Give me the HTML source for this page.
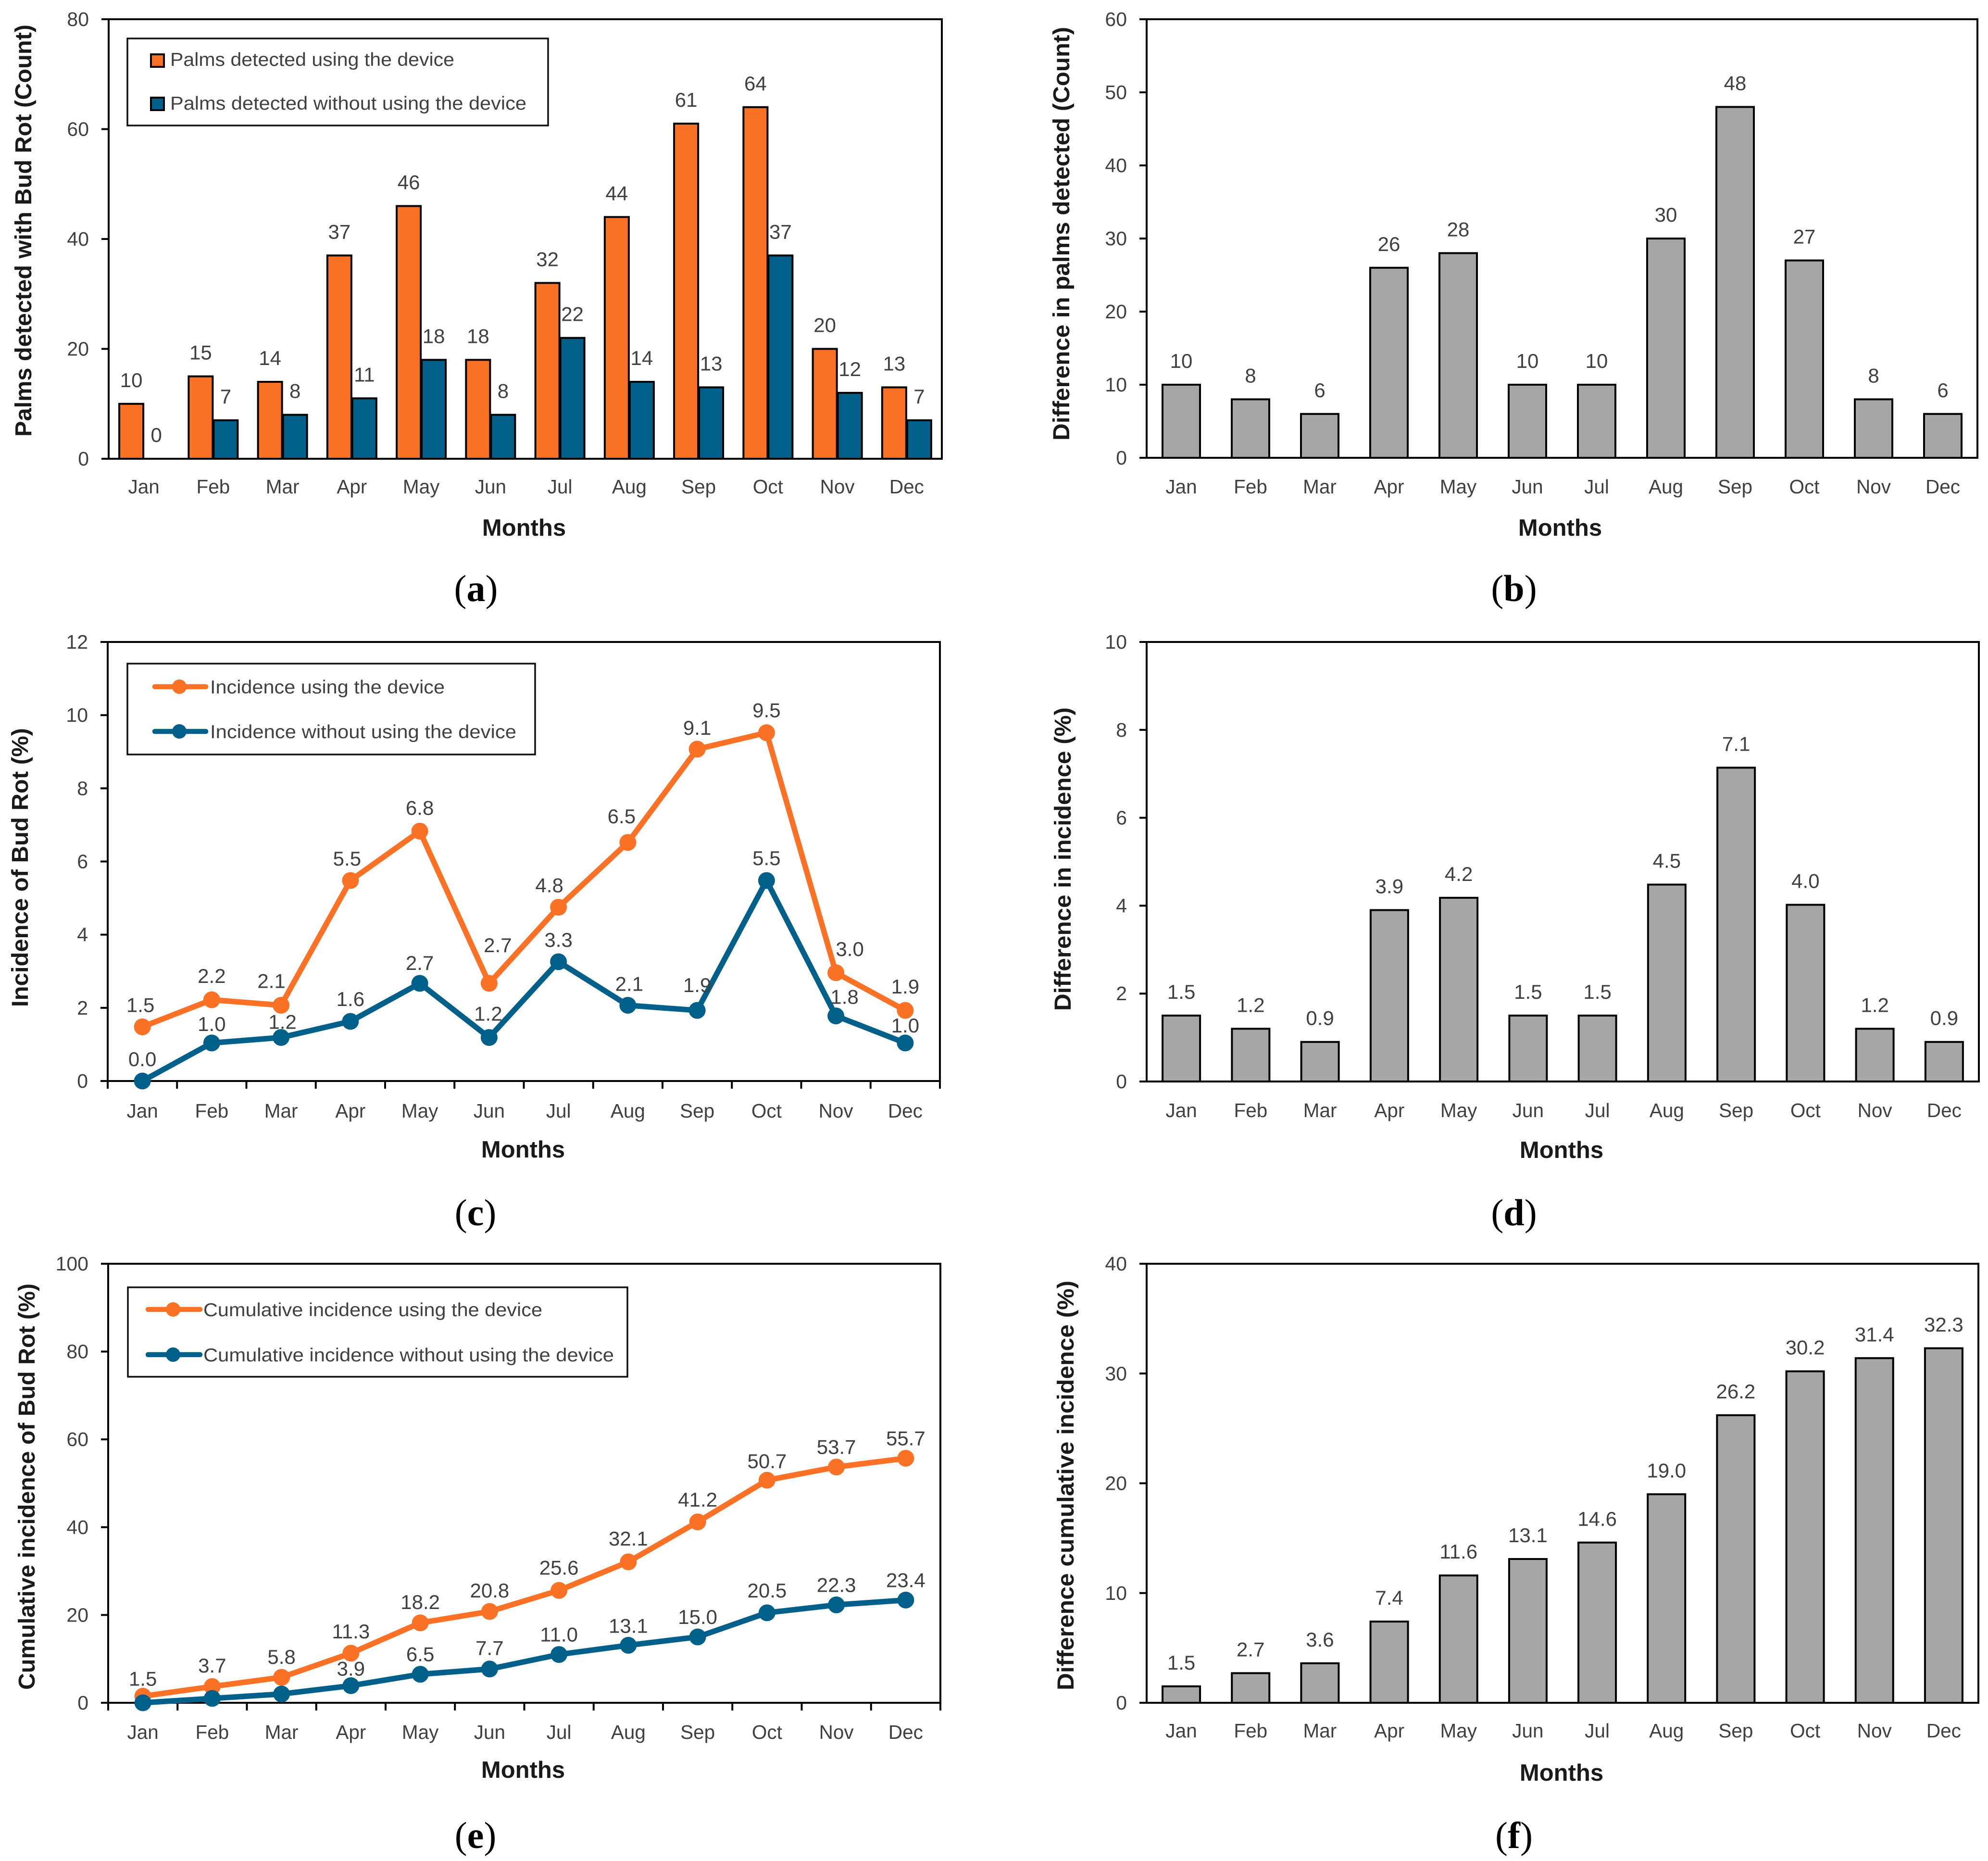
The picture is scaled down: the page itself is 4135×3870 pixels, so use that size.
<!DOCTYPE html>
<html lang="en">
<head>
<meta charset="utf-8">
<title>Bud Rot detection charts</title>
<style>
html,body{margin:0;padding:0;background:#fff;}
svg{display:block;}
text{font-family:"Liberation Sans",sans-serif;}
.tick{font-size:41px;fill:#404040;}
.val{font-size:42px;fill:#404040;text-anchor:middle;}
.month{font-size:40.5px;fill:#404040;text-anchor:middle;}
.ytitle{font-size:48px;font-weight:bold;fill:#1a1a1a;text-anchor:start;}
.xtitle{font-size:49px;font-weight:bold;fill:#1a1a1a;text-anchor:middle;}
.leg{font-size:39px;fill:#404040;}
.cap{font-family:"Liberation Serif",serif;font-size:78px;fill:#000;text-anchor:middle;}
.cap tspan{font-weight:bold;}
.frame{fill:none;stroke:#000;stroke-width:4;}
.legbox{fill:#fff;stroke:#111;stroke-width:3.5;}
</style>
</head>
<body>
<svg id="figure" xmlns="http://www.w3.org/2000/svg" width="4135" height="3870" viewBox="0 0 4135 3870">
  <rect x="0" y="0" width="4135" height="3870" fill="#fff"/>
  <g id="marks"></g>

  <text class="ytitle" transform="translate(65 908) rotate(-90)" textLength="857" lengthAdjust="spacingAndGlyphs">Palms detected with Bud Rot (Count)</text>
  <text class="ytitle" transform="translate(2224 916) rotate(-90)" textLength="860" lengthAdjust="spacingAndGlyphs">Difference in palms detected (Count)</text>
  <text class="ytitle" transform="translate(58 2094) rotate(-90)" textLength="580" lengthAdjust="spacingAndGlyphs">Incidence of Bud Rot (%)</text>
  <text class="ytitle" transform="translate(2227 2102) rotate(-90)" textLength="631" lengthAdjust="spacingAndGlyphs">Difference in incidence (%)</text>
  <text class="ytitle" transform="translate(72 3514) rotate(-90)" textLength="845" lengthAdjust="spacingAndGlyphs">Cumulative incidence of Bud Rot (%)</text>
  <text class="ytitle" transform="translate(2233 3515) rotate(-90)" textLength="852" lengthAdjust="spacingAndGlyphs">Difference cumulative incidence (%)</text>

  <text class="xtitle" x="1090" y="1114">Months</text>
  <text class="xtitle" x="3245" y="1114">Months</text>
  <text class="xtitle" x="1088" y="2407">Months</text>
  <text class="xtitle" x="3248" y="2408">Months</text>
  <text class="xtitle" x="1088" y="3697">Months</text>
  <text class="xtitle" x="3248" y="3703">Months</text>

  <g>
    <rect class="legbox" x="265" y="80" width="875" height="181"/>
    <rect x="314" y="113" width="27" height="26" fill="#FB7226" stroke="#000" stroke-width="4"/>
    <text class="leg" x="354" y="137" textLength="591" lengthAdjust="spacingAndGlyphs">Palms detected using the device</text>
    <rect x="314" y="203" width="27" height="26" fill="#01608A" stroke="#000" stroke-width="4"/>
    <text class="leg" x="354" y="228" textLength="741" lengthAdjust="spacingAndGlyphs">Palms detected without using the device</text>
  </g>

  <g>
    <rect class="legbox" x="265" y="1380" width="848" height="189"/>
    <line x1="322" y1="1428" x2="428" y2="1428" stroke="#FB7226" stroke-width="10.5" stroke-linecap="round"/>
    <circle cx="373" cy="1428" r="15" fill="#FB7226"/>
    <text class="leg" x="437" y="1442" textLength="488" lengthAdjust="spacingAndGlyphs">Incidence using the device</text>
    <line x1="322" y1="1521" x2="428" y2="1521" stroke="#01608A" stroke-width="10.5" stroke-linecap="round"/>
    <circle cx="373" cy="1521" r="15" fill="#01608A"/>
    <text class="leg" x="437" y="1535" textLength="637" lengthAdjust="spacingAndGlyphs">Incidence without using the device</text>
  </g>

  <g>
    <rect class="legbox" x="266" y="2677" width="1039" height="186"/>
    <line x1="308" y1="2723" x2="416" y2="2723" stroke="#FB7226" stroke-width="10.5" stroke-linecap="round"/>
    <circle cx="360" cy="2723" r="15" fill="#FB7226"/>
    <text class="leg" x="423" y="2737" textLength="705" lengthAdjust="spacingAndGlyphs">Cumulative incidence using the device</text>
    <line x1="308" y1="2817" x2="416" y2="2817" stroke="#01608A" stroke-width="10.5" stroke-linecap="round"/>
    <circle cx="360" cy="2817" r="15" fill="#01608A"/>
    <text class="leg" x="423" y="2831" textLength="854" lengthAdjust="spacingAndGlyphs">Cumulative incidence without using the device</text>
  </g>

  <text class="cap" x="990" y="1250">(<tspan>a</tspan>)</text>
  <text class="cap" x="3149" y="1250">(<tspan>b</tspan>)</text>
  <text class="cap" x="989" y="2548">(<tspan>c</tspan>)</text>
  <text class="cap" x="3149" y="2548">(<tspan>d</tspan>)</text>
  <text class="cap" x="989" y="3843">(<tspan>e</tspan>)</text>
  <text class="cap" x="3149" y="3843">(<tspan>f</tspan>)</text>
</svg>

<script>
// ---- categories ----
const months = ["Jan","Feb","Mar","Apr","May","Jun","Jul","Aug","Sep","Oct","Nov","Dec"];

// ---- panel (a) ----
const aTicks = [0,20,40,60,80];
const aDevice = [10,15,14,37,46,18,32,44,61,64,20,13];
const aWithout = [0,7,8,11,18,8,22,14,13,37,12,7];

// ---- panel (b) ----
const bTicks = [0,10,20,30,40,50,60];
const bDifference = [10,8,6,26,28,10,10,30,48,27,8,6];

// ---- panel (c) ----
const cTicks = [0,2,4,6,8,10,12];
const cDevice = [1.48,2.22,2.07,5.48,6.83,2.67,4.75,6.52,9.07,9.52,2.96,1.93];
const cWithout = [0.00,1.04,1.19,1.63,2.67,1.19,3.26,2.07,1.93,5.48,1.78,1.04];

// ---- panel (d) ----
const dTicks = [0,2,4,6,8,10];
const dDifference = [1.5,1.2,0.9,3.9,4.18,1.5,1.5,4.48,7.14,4.02,1.2,0.9];

// ---- panel (e) ----
const eTicks = [0,20,40,60,80,100];
const eDevice = [1.5,3.7,5.8,11.3,18.2,20.8,25.6,32.1,41.2,50.7,53.7,55.7];
const eWithout = [0.0,1.0,2.0,3.9,6.5,7.7,11.0,13.1,15.0,20.5,22.3,23.4];
const eWithoutHiddenLabels = ["Jan","Feb","Mar"];

// ---- panel (f) ----
const fTicks = [0,10,20,30,40];
const fDifference = [1.5,2.7,3.6,7.4,11.6,13.1,14.6,19.0,26.2,30.2,31.4,32.3];

// ---- layout (not data) ----
const ORANGE = "#FB7226", BLUE = "#01608A", GRAY = "#A6A6A6";
const boxA = {id:"a",L:227,R:1958,frameL:226,frameR:1959,T:40,B:954,monthY:1026};
const boxB = {id:"b",L:2385,R:4113,frameL:2385,frameR:4113,T:40,B:952,monthY:1026};
const boxC = {id:"c",L:224,R:1955,frameL:224,frameR:1955,T:1335,B:2248,monthY:2324};
const boxD = {id:"d",L:2385,R:4116,frameL:2385,frameR:4116,T:1335,B:2249,monthY:2323};
const boxE = {id:"e",L:225,R:1956,frameL:225,frameR:1956,T:2628,B:3541,monthY:3616};
const boxF = {id:"f",L:2385,R:4115,frameL:2385,frameR:4115,T:2628,B:3541,monthY:3613};
const cDeviceNudgeX = [-4,0,-20,-7,0,18,-19,-13,0,0,29,0];
const cDeviceLift = [46,50,51,46,49,80,46,55,45,47,50,50];
const cWithoutNudgeX = [0,0,3,0,0,-2,0,3,0,0,18,0];
const cWithoutLift = [46,40,33,47,43,50,46,45,53,47,40,37];
const eDeviceLift = [37,44,43,46,44,44,48,49,47,40,42,42];
const eWithoutLift = [42,42,42,36,42,44,42,41,42,47,42,42];

const NS = "http://www.w3.org/2000/svg";
const root = document.getElementById("marks");

function make(tag, attrs, parent){
  const node = document.createElementNS(NS, tag);
  for (const k in attrs) node.setAttribute(k, attrs[k]);
  (parent || root).appendChild(node);
  return node;
}
function xPos(box, i){ return box.L + (i + 0.5) * (box.R - box.L) / months.length; }
function xEdge(box, i){ return box.L + i * (box.R - box.L) / months.length; }
function yPos(box, ticks, v){
  const max = Math.max.apply(null, ticks);
  return box.B - (v / max) * (box.B - box.T);
}

function drawAxes(box, ticks, decimals, withXTicks){
  const frame = make("rect", {x:box.frameL, y:box.T, width:box.frameR-box.frameL, height:box.B-box.T, "class":"frame"});
  
  
  ticks.forEach(function(t){
    const y = yPos(box, ticks, t);
    const mark = make("line", {x1:box.frameL-15, x2:box.frameL, y1:y, y2:y, stroke:"#000", "stroke-width":4});
    
    
    const lab = make("text", {x:box.frameL-41, y:y+14, "text-anchor":"end", "class":"tick"});
    lab.textContent = t.toFixed(decimals);
    
    
  });
  months.forEach(function(m, i){
    const lab = make("text", {x:xPos(box,i), y:box.monthY, "class":"month"});
    lab.textContent = m;
    
    
  });
  if (withXTicks){
    for (let i = 0; i <= months.length; i++){
      const x = xEdge(box, i);
      const mark = make("line", {x1:x, x2:x, y1:box.B, y2:box.B+16, stroke:"#000", "stroke-width":4});
      
      
    }
  }
}

function drawBars(box, ticks, values, fill, offset, width, digits, seriesName){
  values.forEach(function(v, i){
    const cx = xPos(box, i) + offset;
    const y = yPos(box, ticks, v);
    if (v > 0){
      const bar = make("rect", {x:cx-width/2, y:y, width:width, height:box.B-y, fill:fill, stroke:"#000", "stroke-width":4});
      
      
    }
    const lab = make("text", {x:cx, y:y-35, "class":"val"});
    lab.textContent = v.toFixed(digits);
    
    
  });
}

function drawLine(box, ticks, values, color, seriesName){
  const pts = values.map(function(v, i){ return xPos(box,i).toFixed(1) + "," + yPos(box,ticks,v).toFixed(1); }).join(" ");
  const line = make("polyline", {points:pts, fill:"none", stroke:color, "stroke-width":11.5, "stroke-linejoin":"round"});
  
  
  values.forEach(function(v, i){
    const dot = make("circle", {cx:xPos(box,i), cy:yPos(box,ticks,v), r:17.5, fill:color});
    
    
  });
}

function drawLineLabels(box, ticks, values, lift, nudgeX, hidden, seriesName){
  values.forEach(function(v, i){
    if (hidden.indexOf(months[i]) >= 0) return;
    const lab = make("text", {x:xPos(box,i)+nudgeX[i], y:yPos(box,ticks,v)-lift[i]+15, "class":"val"});
    lab.textContent = v.toFixed(1);
    
    
  });
}

const noNudge = months.map(function(){ return 0; });

// panel a
drawBars(boxA, aTicks, aDevice, ORANGE, -26, 50, 0, 'a-device');
drawBars(boxA, aTicks, aWithout, BLUE, 26, 50, 0, 'a-without-device');
drawAxes(boxA, aTicks, 0, false);

// panel b
drawBars(boxB, bTicks, bDifference, GRAY, 0, 78, 0, 'b-difference');
drawAxes(boxB, bTicks, 0, false);

// panel c
drawAxes(boxC, cTicks, 0, true);
drawLine(boxC, cTicks, cDevice, ORANGE, 'c-device');
drawLine(boxC, cTicks, cWithout, BLUE, 'c-without-device');
drawLineLabels(boxC, cTicks, cDevice, cDeviceLift, cDeviceNudgeX, [], 'c-device');
drawLineLabels(boxC, cTicks, cWithout, cWithoutLift, cWithoutNudgeX, [], 'c-without-device');

// panel d
drawBars(boxD, dTicks, dDifference, GRAY, 0, 78, 1, 'd-difference');
drawAxes(boxD, dTicks, 0, false);

// panel e
drawAxes(boxE, eTicks, 0, true);
drawLine(boxE, eTicks, eDevice, ORANGE, 'e-device');
drawLine(boxE, eTicks, eWithout, BLUE, 'e-without-device');
drawLineLabels(boxE, eTicks, eDevice, eDeviceLift, noNudge, [], 'e-device');
drawLineLabels(boxE, eTicks, eWithout, eWithoutLift, noNudge, eWithoutHiddenLabels, 'e-without-device');

// panel f
drawBars(boxF, fTicks, fDifference, GRAY, 0, 78, 1, 'f-difference');
drawAxes(boxF, fTicks, 0, false);
</script>
</body>
</html>
